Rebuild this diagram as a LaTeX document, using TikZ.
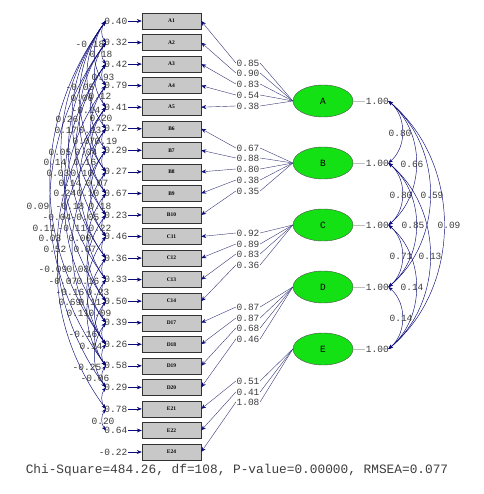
\documentclass[tikz,border=0pt]{standalone}
\usepackage{fontspec}
\setmonofont{Liberation Mono}
\newfontfamily\boxfont{Liberation Serif}
\usetikzlibrary{shapes.geometric,arrows.meta,positioning}
\definecolor{pathblue}{RGB}{10,10,120}
\definecolor{latgreen}{RGB}{20,225,20}
\definecolor{obsgray}{RGB}{200,200,200}
\definecolor{numgray}{RGB}{60,60,60}

\begin{document}
\begin{tikzpicture}[x=1pt,y=1pt,
  obs/.style={draw=black!80, fill=obsgray, minimum width=59pt, minimum height=16pt, inner sep=0pt,
              font=\boxfont\bfseries\fontsize{5.5}{6}\selectfont},
  lat/.style={ellipse, draw=black!70, fill=latgreen, minimum width=60pt, minimum height=32pt, inner sep=0pt,
              font=\ttfamily\fontsize{9.5}{10}\selectfont},
  num/.style={inner sep=0.5pt, text=numgray, font=\ttfamily\fontsize{9.5}{10}\selectfont},
  load/.style={draw=pathblue!60!gray, line width=0.4pt},
  arr/.style={-{Stealth[length=5pt,width=4pt,color=pathblue]}},
  cov/.style={draw=pathblue, line width=0.45pt,
              {Stealth[length=4.5pt,width=3.5pt]}-{Stealth[length=4.5pt,width=3.5pt]}},
]
\useasboundingbox (0,0) rectangle (483,-494);

\foreach \n/\v [count=\i] in {A1/0.40,A2/0.32,A3/0.42,A4/0.79,A5/0.41,B6/0.72,B7/0.29,B8/0.27,B9/0.67,B10/0.23,
    C11/0.46,C12/0.36,C13/0.33,C14/0.50,D17/0.39,D18/0.26,D19/0.58,D20/0.29,E21/0.78,E22/0.64,E24/-0.22}{
  \node[obs] (\n) at (171.5,{-21-(\i-1)*21.55}) {\n};
  \node[num, anchor=east] (ev\i) at (128,{-21-(\i-1)*21.55}) {\v};
  \draw[pathblue, line width=0.6pt, arr] (ev\i) -- (\n);
  \coordinate (e\i) at ([xshift=2pt]ev\i.west);
}

\node[lat] (A) at (323,-101) {A};
\node[lat] (B) at (323,-163) {B};
\node[lat] (C) at (323,-225) {C};
\node[lat] (D) at (323,-287) {D};
\node[lat] (E) at (323,-349) {E};

\foreach \f/\o/\v/\ly in {A/A1/0.85/63, A/A2/0.90/73, A/A3/0.83/84, A/A4/0.54/95, A/A5/0.38/106,
    B/B6/0.67/148, B/B7/0.88/158, B/B8/0.80/169, B/B9/0.38/180, B/B10/0.35/191,
    C/C11/0.92/233, C/C12/0.89/244, C/C13/0.83/254, C/C14/0.36/265,
    D/D17/0.87/307, D/D18/0.87/318, D/D19/0.68/328, D/D20/0.46/339,
    E/E21/0.51/381, E/E22/0.41/392, E/E24/1.08/402}{
  \node[num] (l\o) at (248,-\ly) {\v};
  \draw[load] (\f.west) -- (l\o.east);
  \draw[load, arr] (l\o.west) -- (\o.east);
}

\foreach \f in {A,B,C,D,E}{
  \node[num, right=12pt of \f.east] (v\f) {1.00};
  \draw[gray!50] (\f.east) -- (v\f.west);
  \coordinate (f\f) at ([xshift=-1pt]v\f.east);
}

\foreach \a/\b/\r/\lx/\ly in {A/B/0.80/400/133, A/C/0.66/412/164, A/D/0.59/432/195, A/E/0.09/449/225,
    B/C/0.80/401/195, B/D/0.85/413/225, B/E/0.13/430/256, C/D/0.71/401/256, C/E/0.14/412/287, D/E/0.14/401/318}{
  \draw[cov] (f\a) to[out=-40,in=40] (f\b);
  \node[num] (r\a\b) at (\lx,-\ly) {\r};
}

\foreach \i/\j in {1/2,1/4,1/6,1/8,1/10,1/13,1/16,2/3,2/5,2/9,2/12,2/17,3/4,3/7,3/11,3/14,
    4/5,4/8,4/15,5/6,5/9,5/12,5/18,6/7,6/10,6/19,7/8,7/11,7/16,8/9,8/13,9/10,9/14,
    10/11,10/15,11/12,11/16,12/13,12/17,13/14,13/16,14/15,14/17,15/16,15/18,16/17,17/18,18/19,19/20}{
  \draw[cov] (e\i) to[out=234,in=126] (e\j);
}

\foreach \t/\lx/\ly [count=\k] in {-0.18/90/44, 0.18/101/54, 0.93/103/77, -0.05/80/87,
    0.06/82/98, 0.12/100/96, -0.14/86/110, 0.26/67/119, 0.20/101/118, 0.17/66/130, 0.13/90/130,
    0.07/84/141, 0.19/106/141, 0.05/60/152, 0.04/86/152, 0.14/55/162, 0.16/85/162,
    0.03/58/173, 0.10/82/173, 0.14/70/183, 0.07/97/183, 0.24/65/193, 0.10/88/193,
    0.09/38/206, -0.18/70/206, 0.18/100/206, -0.04/57/217, -0.05/85/217,
    0.11/44/228, -0.11/72/228, 0.22/100/228, 0.03/50/238, 0.00/80/238, 0.52/55/249, 0.07/85/249,
    -0.09/53/269, 0.08/78/269, -0.07/63/281, 0.16/88/281, -0.16/70/292, 0.23/98/292,
    0.69/70/302, 0.11/90/302, 0.11/78/313, 0.09/100/313, -0.16/83/334, 0.14/91/346,
    -0.25/87/367, -0.06/95/378, 0.20/103/421}{
  \node[num] (c\k) at (\lx,-\ly) {\t};
}

\node[num, font=\ttfamily\fontsize{12.8}{14}\selectfont] (fit) at (237,-470)
  {Chi-Square=484.26, df=108, P-value=0.00000, RMSEA=0.077};
\end{tikzpicture}
\end{document}
